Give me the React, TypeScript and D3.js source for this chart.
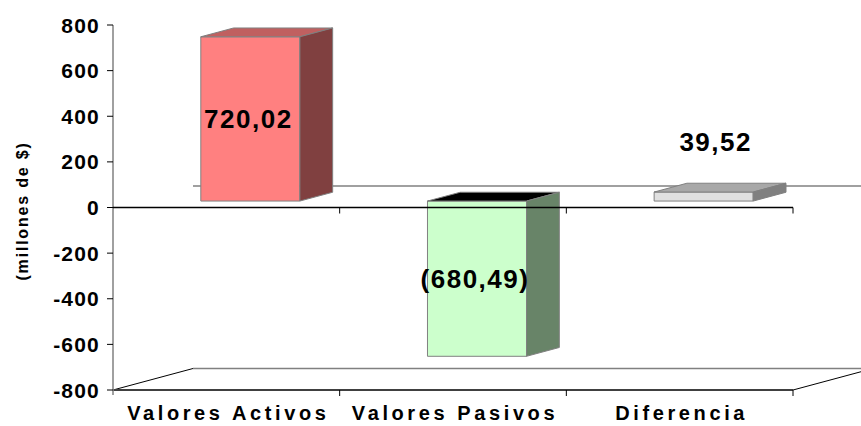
import React from "react";
import * as d3 from "d3";

// chart data
const categories = ["Valores Activos", "Valores Pasivos", "Diferencia"];
const values = [720.02, -680.49, 39.52];
const valueLabels = ["720,02", "(680,49)", "39,52"];
const yTicks = [-800, -600, -400, -200, 0, 200, 400, 600, 800];

const frontColors = ["#FF8080", "#CCFFCC", "#E0E0E0"];
const topColors = ["#C06060", "#000000", "#A8A8A8"];
const sideColors = ["#804040", "#688468", "#808080"];

const width = 861;
const height = 426;
const font = "'Liberation Sans', Arial, sans-serif";

// depth of the 3d box
const DX = 80;
const DY = -21.5;
const F0 = 0.3; // bar front
const F1 = 0.71; // bar back

const App = () => {
    const x = d3.scaleBand<string>()
        .domain(categories)
        .range([113, 793])
        .paddingInner(0.563)
        .paddingOuter(0.2815);
    const y = d3.scaleLinear().domain([-800, 800]).range([390, 25]);

    const left = x.range()[0];
    const right = x.range()[1];
    const step = x.step();
    const bw = x.bandwidth();
    const y0 = y(0);
    const yMin = y(-800);

    const pt = (px: number, py: number, f: number) =>
        `${px + DX * f},${py + DY * f}`;

    // label centers, relative to the bar front
    const labelPos = (i: number) => {
        const v = values[i];
        const cx = x(categories[i])! + bw / 2 + DX * F0;
        if (Math.abs(y(v) - y0) < 40) {
            return [cx + 12, y(v) + DY * F0 - 50];
        }
        return [cx - 2, (y(v) + y0) / 2 + DY * F0];
    };

    return (
        <svg width={width} height={height}
            style={{ position: "absolute", left: 0, top: 0, background: "#fff" }}>
            {/* floor */}
            <polygon
                points={[pt(left, yMin, 0), pt(right, yMin, 0), pt(right, yMin, 1), pt(left, yMin, 1)].join(" ")}
                fill="#fff" stroke="none" />
            <line x1={left + DX} y1={yMin + DY} x2={right + DX} y2={yMin + DY}
                stroke="#808080" strokeWidth={1.5} />
            <line x1={left} y1={yMin} x2={left + DX} y2={yMin + DY} stroke="#000" strokeWidth={1} />
            <line x1={right} y1={yMin} x2={right + DX} y2={yMin + DY} stroke="#000" strokeWidth={1} />
            <line x1={left} y1={yMin} x2={right} y2={yMin} stroke="#404040" strokeWidth={2} />

            {/* zero line on the back wall */}
            <line x1={left + DX} y1={y0 + DY} x2={right + DX} y2={y0 + DY}
                stroke="#808080" strokeWidth={1.5} />

            {/* bars */}
            {categories.map((c, i) => {
                const v = values[i];
                const x0 = x(c)!;
                const x1 = x0 + bw;
                const yt = y(Math.max(v, 0));
                const yb = y(Math.min(v, 0));
                return (
                    <g key={c} stroke="#808080" strokeWidth={1} strokeLinejoin="round">
                        <polygon
                            points={[pt(x0, yt, F0), pt(x1, yt, F0), pt(x1, yb, F0), pt(x0, yb, F0)].join(" ")}
                            fill={frontColors[i]} />
                        <polygon
                            points={[pt(x0, yt, F0), pt(x1, yt, F0), pt(x1, yt, F1), pt(x0, yt, F1)].join(" ")}
                            fill={topColors[i]} />
                        <polygon
                            points={[pt(x1, yt, F0), pt(x1, yt, F1), pt(x1, yb, F1), pt(x1, yb, F0)].join(" ")}
                            fill={sideColors[i]} />
                    </g>
                );
            })}

            {/* y axis */}
            <line x1={left} y1={y(800)} x2={left} y2={yMin + 5} stroke="#808080" strokeWidth={1.5} />
            {yTicks.map(t => (
                <g key={t}>
                    <line x1={left - 6} x2={left} y1={y(t)} y2={y(t)} stroke="#000" strokeWidth={1} />
                    <text x={100} y={y(t)} dy="0.36em" textAnchor="end"
                        fontFamily={font} fontWeight="bold" fontSize={21} letterSpacing={1.2}>
                        {t}
                    </text>
                </g>
            ))}

            {/* zero axis on the front plane */}
            <line x1={left} y1={y0} x2={right} y2={y0} stroke="#000" strokeWidth={1.5} />
            {categories.map((c, i) => (
                <g key={c}>
                    <line x1={left + step * (i + 1)} x2={left + step * (i + 1)} y1={y0} y2={y0 + 6}
                        stroke="#000" strokeWidth={1} />
                    <line x1={left + step * (i + 1)} x2={left + step * (i + 1)} y1={yMin} y2={yMin + 6}
                        stroke="#000" strokeWidth={1} />
                </g>
            ))}

            {/* category labels */}
            {categories.map(c => (
                <text key={c} x={x(c)! + bw / 2 + 2} y={420} textAnchor="middle"
                    fontFamily={font} fontWeight="bold" fontSize={20} letterSpacing={3.6}>
                    {c}
                </text>
            ))}

            {/* value labels */}
            {valueLabels.map((l, i) => {
                const [lx, ly] = labelPos(i);
                return (
                    <text key={l} x={lx} y={ly} dy="0.36em" textAnchor="middle"
                        fontFamily={font} fontWeight="bold" fontSize={26} letterSpacing={1.5}>
                        {l}
                    </text>
                );
            })}

            {/* y axis title */}
            <text transform="translate(22,211) rotate(-90)" dy="0.36em" textAnchor="middle"
                fontFamily={font} fontWeight="bold" fontSize={16} letterSpacing={1.8}>
                (millones de $)
            </text>
        </svg>
    );
};

export default App;
